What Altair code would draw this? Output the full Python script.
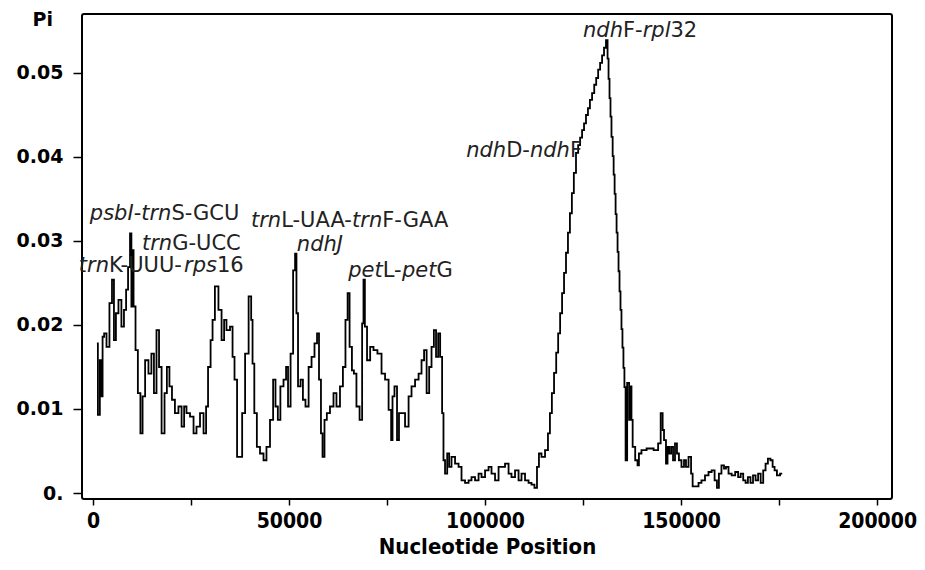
import altair as alt
import pandas as pd

# ---- data (sliding-window nucleotide diversity) ----
positions = [
    1000, 1500, 2000, 2300, 2600, 3100, 3800, 4600, 5100, 5600, 6100, 6900, 7600, 8200, 8700,
    9200, 9700, 9900, 10200, 10500, 11200, 11700, 12500, 12800, 13800, 14500, 15300, 15800,
    16600, 17100, 17900, 18600, 19100, 19900, 20400, 21400, 22200, 23000, 23500, 24200, 25300,
    26000, 26800, 27800, 28600, 29100, 29600, 30400, 30600, 31600, 32400, 33200, 33700, 34400,
    35500, 35700, 36500, 37000, 37800, 38300, 39300, 40100, 40600, 40800, 41500, 42100, 43100,
    43900, 44600, 45700, 46200, 46900, 47400, 48200, 49000, 49500, 50000, 50800, 51300, 51800,
    52000, 52600, 53300, 53800, 54600, 55400, 56100, 56900, 57400, 57900, 58400, 58700, 59400,
    59900, 61000, 61700, 62500, 63500, 64000, 64800, 65100, 65800, 66300, 66800, 67600, 68400,
    68900, 69100, 69600, 70200, 71200, 71900, 73200, 74000, 75000, 75800, 76300, 76500, 77300,
    77800, 78300, 79100, 80100, 80900, 81600, 82700, 83400, 84200, 84700, 85500, 86000, 86700,
    87200, 87800, 88300, 88800, 89300, 89500, 90100, 90600, 91100, 91800, 92900, 93600, 94400,
    95400, 96200, 96900, 98000, 98700, 99500, 100500, 101300, 102000, 103100, 103800, 104600,
    105600, 106400, 107100, 108200, 108900, 109700, 110700, 111500, 112200, 113000, 113500,
    114000, 114800, 115800,
    116300, 116800, 117300, 117900, 118400, 118900, 119400, 119900, 120400, 120900,
    121400, 121900, 122400, 122900, 123500, 124000, 124500, 125000, 125500, 126000,
    126500, 127000, 127600, 128100, 128600, 129100, 129600, 130100, 130600, 131100,
    131400, 131600, 131900, 132100, 132400, 132700, 132900, 133200, 133400, 133700,
    133900, 134200, 134400, 134700, 134900, 135200, 135400, 135700,
    136000, 136500, 137000, 137200, 137500, 137800, 138800, 139000, 139500, 140300,
    142100, 143900, 144400, 145200, 145400, 145900, 146400, 146700, 147200, 147700, 148200,
    148700, 149200, 149700, 150500, 151000, 151500, 152300, 152800, 153100, 154100, 154800,
    155600, 156600, 157400, 158200, 158900, 159400, 159900, 160700, 161200, 161700, 162500,
    163300, 164300, 164800, 165600, 166100, 166800, 167300, 168100, 168600, 169400, 169900,
    170700, 171200, 171900, 172400, 173200, 173500, 174200, 174700, 175800,
]
pi_values = [
    0.0178, 0.0093, 0.0158, 0.0115, 0.0186, 0.0190, 0.0174, 0.0226, 0.0254, 0.0182, 0.0214,
    0.0230, 0.0198, 0.0218, 0.0242, 0.0269, 0.0309, 0.0222, 0.0289, 0.0222, 0.0170, 0.0119,
    0.0071, 0.0115, 0.0158, 0.0142, 0.0166, 0.0119, 0.0194, 0.0150, 0.0071, 0.0119, 0.0150,
    0.0127, 0.0111, 0.0095, 0.0103, 0.0079, 0.0103, 0.0095, 0.0091, 0.0071, 0.0079, 0.0095,
    0.0071, 0.0103, 0.0150, 0.0182, 0.0206, 0.0246, 0.0218, 0.0182, 0.0206, 0.0194, 0.0198,
    0.0162, 0.0135, 0.0043, 0.0043, 0.0095, 0.0166, 0.0234, 0.0206, 0.0154, 0.0095, 0.0055,
    0.0047, 0.0039, 0.0055, 0.0087, 0.0135, 0.0103, 0.0087, 0.0127, 0.0135, 0.0150, 0.0103,
    0.0166, 0.0265, 0.0285, 0.0214, 0.0127, 0.0135, 0.0111, 0.0103, 0.0150, 0.0162, 0.0178,
    0.0190, 0.0135, 0.0071, 0.0043, 0.0087, 0.0095, 0.0103, 0.0119, 0.0103, 0.0127, 0.0150,
    0.0206, 0.0238, 0.0174, 0.0146, 0.0142, 0.0103, 0.0087, 0.0202, 0.0254, 0.0198, 0.0158,
    0.0174, 0.0170, 0.0166, 0.0142, 0.0135, 0.0099, 0.0063, 0.0115, 0.0127, 0.0063, 0.0095,
    0.0095, 0.0079, 0.0115, 0.0127, 0.0135, 0.0142, 0.0158, 0.0170, 0.0119, 0.0150, 0.0174,
    0.0194, 0.0162, 0.0190, 0.0162, 0.0095, 0.0039, 0.0023, 0.0047, 0.0031, 0.0043, 0.0035,
    0.0031, 0.0015, 0.0012, 0.0015, 0.0019, 0.0015, 0.0023, 0.0019, 0.0027, 0.0031, 0.0023,
    0.0015, 0.0031, 0.0031, 0.0035, 0.0023, 0.0019, 0.0027, 0.0015, 0.0023, 0.0015, 0.0012,
    0.0010, 0.0006, 0.0031, 0.0047, 0.0043, 0.0051,
    0.0071, 0.0095, 0.0119, 0.0143, 0.0167, 0.0190, 0.0214, 0.0238, 0.0262, 0.0286,
    0.0310, 0.0333, 0.0357, 0.0381, 0.0405, 0.0414, 0.0423, 0.0432, 0.0440, 0.0450,
    0.0458, 0.0468, 0.0476, 0.0486, 0.0494, 0.0504, 0.0512, 0.0521, 0.0530, 0.0539,
    0.0517, 0.0493, 0.0470, 0.0448, 0.0424, 0.0401, 0.0379, 0.0356, 0.0332, 0.0310,
    0.0287, 0.0264, 0.0240, 0.0218, 0.0195, 0.0173, 0.0149, 0.0126,
    0.0039, 0.0131, 0.0087, 0.0127, 0.0087, 0.0055, 0.0039,
    0.0033, 0.0047, 0.0051, 0.0053, 0.0051, 0.0059, 0.0095, 0.0075, 0.0063, 0.0035, 0.0055,
    0.0047, 0.0055, 0.0039, 0.0059, 0.0047, 0.0039, 0.0031, 0.0039, 0.0031, 0.0043, 0.0023,
    0.0008, 0.0008, 0.0012, 0.0015, 0.0021, 0.0025, 0.0027, 0.0015, 0.0006, 0.0023, 0.0033,
    0.0029, 0.0031, 0.0023, 0.0021, 0.0025, 0.0019, 0.0023, 0.0015, 0.0012, 0.0019, 0.0012,
    0.0021, 0.0015, 0.0023, 0.0012, 0.0027, 0.0035, 0.0041, 0.0039, 0.0031, 0.0027, 0.0021,
    0.0023,
]

x_ticks = [0, 25000, 50000, 75000, 100000, 125000, 150000, 175000, 200000]
y_ticks = [0.0, 0.01, 0.02, 0.03, 0.04, 0.05]

# region labels: (text part, italic?)
label_parts = [
    [("psbI", True), ("-", False), ("trn", True), ("S-GCU", False)],
    [("trn", True), ("G-UCC", False)],
    [("trn", True), ("K-UUU-", False), ("rps", True), ("16", False)],
    [("trn", True), ("L-UAA-", False), ("trn", True), ("F-GAA", False)],
    [("ndhJ", True)],
    [("pet", True), ("L-", False), ("pet", True), ("G", False)],
    [("ndh", True), ("D-", False), ("ndh", True), ("F", False)],
    [("ndh", True), ("F-", False), ("rpl", True), ("32", False)],
]
label_x = [-800, 12500, -3600, 40300, 52000, 65100, 95200, 125000]
label_y = [0.0325, 0.0289, 0.0263, 0.0317, 0.0288, 0.0257, 0.0400, 0.0543]

# ---- layout ----
X_DOMAIN = [-2800, 203800]
Y_DOMAIN = [-0.000714, 0.05702]
W, H = 810, 485
LABEL_SIZE = 21
FONT = "DejaVu Sans"

# DejaVu Sans advance widths (per 1000 em); oblique shares them
ADV = {
    "p": 635, "s": 521, "b": 635, "I": 295, "-": 361, "t": 392, "r": 411, "n": 634,
    "S": 635, "G": 775, "C": 698, "U": 732, "K": 656, "L": 557, "A": 684, "F": 575,
    "J": 295, "D": 770, "h": 634, "d": 635, "l": 278, "e": 615,
}
def text_width(s):
    return sum(ADV.get(c, 636) for c in s) * LABEL_SIZE / 1000.0

units_per_px = (X_DOMAIN[1] - X_DOMAIN[0]) / W
rows = []
for parts, lx, ly in zip(label_parts, label_x, label_y):
    off = 0.0
    for txt, it in parts:
        rows.append({"pos": lx + off * units_per_px, "pi": ly, "txt": txt, "italic": it})
        off += text_width(txt)
labels = pd.DataFrame(rows)

df = pd.DataFrame({"pos": positions, "pi": pi_values})

COND = "DejaVu Sans Condensed, Liberation Sans Narrow, DejaVu Sans"

x_enc = alt.X(
    "pos:Q",
    scale=alt.Scale(domain=X_DOMAIN, nice=False, zero=False),
    axis=alt.Axis(
        values=x_ticks,
        labelExpr="datum.value % 50000 == 0 ? format(datum.value, 'd') : ''",
        title="Nucleotide Position",
        grid=False, domain=False,
        tickSize=6, tickWidth=1.5, tickColor="black",
        labelFont=COND, labelFontWeight="bold", labelFontSize=21, labelColor="black",
        labelPadding=5, labelFlush=False, labelOverlap=False,
        titleFont=COND, titleFontWeight="bold", titleFontSize=22, titleColor="black",
        titlePadding=5,
    ),
)
y_enc = alt.Y(
    "pi:Q",
    scale=alt.Scale(domain=Y_DOMAIN, nice=False, zero=False),
    axis=alt.Axis(
        values=y_ticks,
        labelExpr="datum.value == 0 ? '0.' : format(datum.value, '.2f')",
        title="Pi",
        grid=False, domain=False,
        tickSize=9, tickWidth=1.5, tickColor="black",
        labelFont=FONT, labelFontWeight="bold", labelFontSize=19, labelColor="black",
        labelPadding=10, labelFlush=False, labelOverlap=False,
        titleFont=FONT, titleFontWeight="bold", titleFontSize=19, titleColor="black",
        titleAngle=0, titleAlign="left", titleBaseline="alphabetic",
        titleX=-50, titleY=11,
    ),
)

line = alt.Chart(df).mark_line(color="black", strokeWidth=1.8, interpolate="step").encode(
    x=x_enc, y=y_enc
)

txt_it = alt.Chart(labels[labels["italic"]]).mark_text(
    align="left", baseline="alphabetic", fontSize=LABEL_SIZE, font=FONT,
    fontStyle="italic", color="#222222",
).encode(x="pos:Q", y="pi:Q", text="txt:N")

txt_rm = alt.Chart(labels[~labels["italic"]]).mark_text(
    align="left", baseline="alphabetic", fontSize=LABEL_SIZE, font=FONT,
    fontStyle="normal", color="#222222",
).encode(x="pos:Q", y="pi:Q", text="txt:N")

chart = (
    alt.layer(line, txt_it, txt_rm)
    .properties(
        width=W, height=H,
        padding={"left": 74, "top": 6, "right": 25, "bottom": 60},
        autosize=alt.AutoSizeParams(type="none"),
        background="white",
    )
    .configure_view(stroke="black", strokeWidth=2, cornerRadius=2)
)

chart.save("out.html", embed_options={"renderer": "svg", "actions": False})
